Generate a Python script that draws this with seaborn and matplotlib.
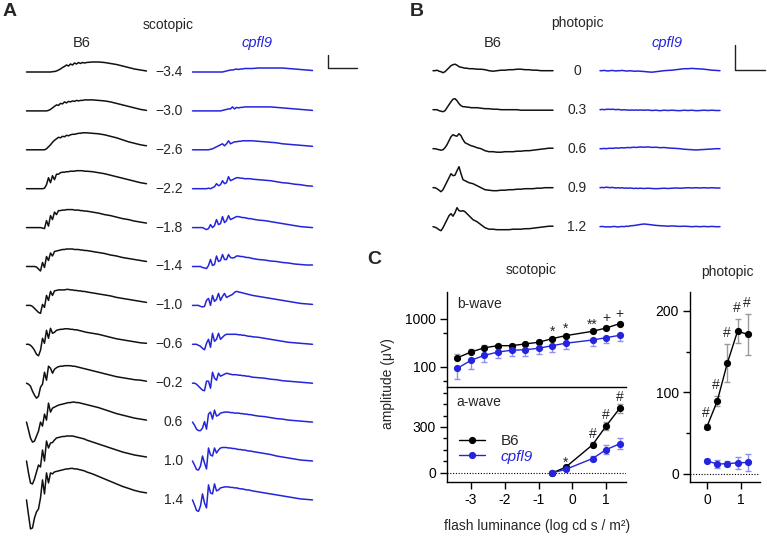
import numpy as np
import matplotlib
matplotlib.use("Agg")
import matplotlib.pyplot as plt
import seaborn as sns
from matplotlib.ticker import FixedLocator, MultipleLocator, NullFormatter, FixedFormatter

# ------------------------------------------------------------------ data
# Panel C : scotopic / photopic ERG amplitudes (uV)
scot_lum = [-3.4, -3.0, -2.6, -2.2, -1.8, -1.4, -1.0, -0.6, -0.2, 0.6, 1.0, 1.4]
bwave_b6 = [156, 205, 252, 278, 278, 302, 327, 389, 449, 554, 649, 797]
bwave_cp = [94, 138, 175, 205, 223, 229, 245, 278, 312, 365, 408, 457]
bwave_b6_err = [30, 35, 35, 28, 28, 30, 33, 39, 45, 55, 65, 80]
bwave_cp_err = [37, 48, 45, 51, 56, 57, 61, 70, 75, 87, 98, 110]
bwave_sig = ["", "", "", "", "", "", "", "*", "*", "**", "+", "+"]

awave_lum = [-0.6, -0.2, 0.6, 1.0, 1.4]
awave_b6 = [0, 37, 184, 306, 421]
awave_cp = [0, 23, 94, 152, 190]
awave_b6_err = [0, 6, 15, 24, 32]
awave_cp_err = [0, 5, 16, 28, 35]
awave_sig = ["", "*", "#", "#", "#"]

phot_lum = [0.0, 0.3, 0.6, 0.9, 1.2]
phot_b6 = [58, 89, 136, 175, 171]
phot_cp = [16, 12, 12.5, 13.5, 14]
phot_b6_err = [3, 6, 23, 15, 25]
phot_cp_err = [2, 5, 3, 7, 10]
phot_sig = ["#", "#", "#", "#", "#"]

# Panel A : scotopic traces (time samples, scaled amplitude)
scot_labels = ["\u22123.4", "\u22123.0", "\u22122.6", "\u22122.2", "\u22121.8", "\u22121.4",
               "\u22121.0", "\u22120.6", "\u22120.2", "0.6", "1.0", "1.4"]
scot_t = [0, 2, 4, 6, 8, 10, 12, 14, 16, 18, 20, 22, 24, 26, 28, 30, 32, 34, 36, 38, 40,
          42, 44, 46, 48, 50, 52, 54, 56, 58, 60, 66, 72, 78, 84, 90, 96, 102, 108, 114, 120]
trace_scot_b6 = [
    [0]*13 + [.3, .5, 1, 2, 3, 4.5, 5.5, 7, 6, 8, 7, 9, 8, 9.5, 8.5, 9.5, 9, 9.5,
              10, 10, 9.5, 8.5, 7.5, 6, 4.5, 3, 2, 1],
    [0]*11 + [.5, 1.5, 3, 4.5, 6, 5.5, 7.5, 7, 9, 8, 9.5, 9, 10, 9.5, 10.5, 10, 10.5, 10.5, 11, 11,
              11, 10.5, 10, 9, 7.5, 6, 4.5, 3, 1.5, .5],
    [0]*10 + [1, 3, 5, 7.5, 9.5, 11, 12.5, 12, 13.5, 13, 14.5, 14, 15, 15.5, 15.5, 16, 16.5, 16.5, 17, 17, 17,
              16.5, 16, 15, 13.5, 12, 10, 8, 6.5, 5, 4],
    [0]*9 + [.5, 4, 11, 6, 13, 9, 14.5, 14.5, 16, 16.5, 16.5, 17, 17, 17.5, 17.5, 17.5, 18, 18, 18, 18, 17.5, 17.5,
             17, 16, 15, 13.5, 12, 10.5, 9, 7.5, 6, 5],
    [0]*8 + [-.5, -1, 7, 1.5, 12, 8, 15.5, 13, 17, 17, 17.5, 17.5, 18, 18, 18, 18, 17.5, 17.5, 17.5, 17, 17, 16.5, 16.5,
             15.5, 14.5, 13, 12, 10.5, 9, 8, 6.5, 5.5, 4.5],
    [0]*5 + [-.5, -2.5, -4.5, 4, -1, 10, 6, 13.5, 10.5, 15, 15.5, 16, 16.5, 17, 17, 17.5, 17.5, 17.5, 17.5, 17, 17, 17,
             16.5, 16.5, 16, 16, 15, 14, 13, 11.5, 10.5, 9, 8, 7, 6, 5],
    [0]*3 + [-1, -3, -5, -7, -8, 1, -2, 10, 5, 14, 10, 14.5, 15, 15.5, 15.5, 15.5, 15.5, 16, 16, 15.5, 15.5, 15, 15,
             14.5, 14.5, 14, 14, 13.5, 12.5, 11.5, 10.5, 9.5, 8, 7, 6, 5, 4, 3],
    [0]*2 + [-1, -3, -6, -10, -11.5, -6, 6, 1, 14, 6, 16, 11, 12, 14, 14.5, 15, 15, 15.5, 15.5, 15.5, 15, 15, 14.5,
             14.5, 14, 13.5, 13, 12.5, 12, 11, 10, 8.5, 7, 5.5, 4.5, 3.5, 2.5, 1.5, 1],
    [0, -1, -3, -8, -12, -15, -13, -4, -1, 11, 3, 17, 15, 10, 14, 15.5, 16.5, 17, 17, 17.5, 17.5, 17.5, 17.5, 17, 17,
     16.5, 16, 15.5, 15, 14.5, 14, 12.5, 11, 9.5, 8, 6.5, 5.5, 4.5, 3.5, 3, 2],
    [0, -8, -16, -20, -19, -14, -9, 0, -4, 8, 2, 19, 10, 14, 15, 16, 17, 17.5, 18, 18.5, 19, 19.5, 19.5, 20, 20,
     19.5, 19.5, 19, 18.5, 18, 17.5, 16, 14.5, 12.5, 10.5, 8.5, 7, 5.5, 4, 3, 2],
    [0, -12, -22, -23, -18, -11, -4, -6, 11, 0, 20, 13, 18, 18.5, 21, 23, 23.5, 24, 24.5, 24.5, 25, 25, 25, 25, 24.5,
     24, 23.5, 23, 22.5, 22, 21, 19, 17, 15, 13, 11, 9, 7.5, 6, 5, 4],
    [0, -15, -29, -28, -18, -12, -9, 2, 20, 6, 27, 17, 27, 26, 28, 28.5, 29, 29.5, 30, 30.5, 31, 31, 31.5, 31.5, 31,
     31, 30.5, 30, 29.5, 29, 28, 26, 23.5, 21, 18.5, 16, 13.5, 11.5, 9.5, 8, 7],
]
trace_scot_cp = [
    [0]*16 + [.5, 1, 1.5, 2, 2, 2.5, 3, 2.5, 3, 3, 3.5, 3.5, 3.5, 3.5, 3.5,
              4, 4, 4, 4, 4, 3.5, 3, 2.5, 2, 1.5],
    [0]*15 + [.5, 1, 1.5, 2, 2, 4, 2, 3.5, 3, 3.5, 3.5, 4, 4, 4, 4, 4,
              4, 4, 4, 3.5, 3, 2.5, 2, 1.5, 1, .5],
    [0]*9 + [.5, 1, 2, 3, 4, 5, 6, 4, 6, 9, 6, 7, 8, 8, 8.5, 8.5, 9, 9, 9, 9, 9, 9,
             8.5, 8, 7.5, 7, 6, 5.5, 5, 4.5, 4, 3.5],
    [0]*8 + [.5, 0, 1, 2, 5, 3, 4, 8, 5, 6, 12, 8, 9, 10, 11, 11, 10.5, 10.5, 10, 10, 10, 10, 9.5,
             9, 8.5, 8, 7, 6, 5.5, 4.5, 4, 3, 2.5],
    [0]*6 + [-1, -2, -1, 3, 0, 2, 8, 3, 4, 11, 5, 7, 12, 8, 9, 10, 11, 11, 10.5, 10, 10, 9.5, 9, 9, 8.5,
             7.5, 7, 6, 5, 4, 3, 2, 1, .5, 0],
    [0]*5 + [-1, -1.5, -2, 1, 7, 1, 2, 10.5, 5, 6, 12, 7, 7, 12, 9, 8.5, 9, 10.5, 10.5, 10, 10, 9.5, 9, 9, 8.5, 8,
             7, 6.5, 5.5, 5, 4, 3.5, 2.5, 2, 1.5, 1.5],
    [0]*4 + [-1, -1.5, -1, 5, 7, 0, 10, 4, 6, 12, 5, 9, 12, 8, 9, 10, 11, 13, 14, 13.5, 13, 12.5, 12, 11.5, 11, 10.5, 10,
             9, 8, 7, 6, 5, 4, 3, 2, 1.5, 1],
    [0]*3 + [-1, -2, -4, -5.5, 1, 5, -3, 11, 3, 5, 11, 5, 7, 9, 10, 10, 10, 10, 10, 10, 9.5, 9.5, 9, 9, 8.5, 8, 8, 7.5,
             7, 6, 5, 4, 3, 2, 1.5, 1, .5, 0],
    [0]*2 + [-1, -3, -5, -7, -7.5, 2, 2, -5, 11, 5, 3, 10, 7, 8, 9, 10, 9.5, 9, 8.5, 8.5, 8.5, 8, 8, 7.5, 7.5, 7, 7,
             6.5, 6, 5.5, 5, 4, 3.5, 2.5, 2, 1.5, 1, .5, 0],
    [0, -3, -7, -8.5, -8.5, -6, .5, -7, 8, 10, 3, 12, 6, 7, 9, 9.5, 10, 10, 10, 9.5, 9.5, 9, 9, 9, 8.5, 8.5, 8, 8,
     7.5, 7.5, 7, 6, 5.5, 4.5, 3.5, 3, 2, 1.5, 1, .5, 0],
    [0, -4, -8.5, -9, -5, 5, -2, -8, 13, 6, 5, 13, 8, 11, 13, 13.5, 13.5, 13.5, 13, 13, 12.5, 12.5, 12, 11.5, 11.5,
     11, 11, 10.5, 10, 10, 9.5, 8.5, 7.5, 6.5, 5, 4, 3, 2, 1, .5, 0],
    [0, -5, -10.5, -11.5, -6, 6, -3, -8, 15, 7, 6, 16, 9, 10, 12, 12.5, 13, 13, 13, 12.5, 12.5, 12, 12, 11.5, 11,
     11, 10.5, 10, 10, 9.5, 9, 8, 7, 6, 5, 4, 3, 2, 1, .5, 0],
]

# Panel B : photopic traces
phot_labels = ["0", "0.3", "0.6", "0.9", "1.2"]
phot_t = [0, 2, 4, 6, 8, 10, 12, 14, 16, 18, 20, 22, 24, 26, 28, 30, 32, 34, 36, 38, 40,
          44, 48, 52, 56, 60, 64, 68, 72, 76, 80, 84, 88, 92, 96, 100, 104, 108, 112, 116, 120]
trace_phot_b6 = [
    [0, 0, .5, -.5, -1, -2, -1, 1, 3, 5, 6, 6.5, 5.5, 4, 3.5, 3, 2.5, 2.5, 2, 2, 2,
     1.5, 1.5, 1, 0, -.5, 0, .5, .5, 1, 1, 1.5, 1.5, 1, 1, .5, .5, 0, 0, 0, 0],
    [0, 0, 0, -1, -1.5, -2, -1, 2, 5, 8, 10.5, 11, 9, 6, 4, 3, 3, 2.5, 2.5, 2, 2,
     2, 1.5, 1, 1, .5, .5, 0, 0, 0, 0, 0, -.5, -.5, -.5, -.5, -.5, -.5, -.5, -.5, -.5],
    [0, 0, -.5, -1, -1.5, -1, 1, 4, 8, 12, 14, 13, 12.5, 15, 13, 9, 6, 5, 4, 3, 2.5,
     1, 0, -2, -3, -3, -3.5, -3.5, -3, -3, -3, -2.5, -2.5, -2, -2, -1.5, -1, -.5, 0, .5, .5],
    [0, 0, -1, -2.5, -4, -2, 2, 6, 10, 14, 12, 12.5, 17, 21, 14, 8, 7, 6, 5, 4.5, 4,
     2, 0, -2, -2.5, -3, -3, -2.5, -2.5, -2, -2, -1.5, -1.5, -1, -1, -1, -.5, -.5, 0, 0, 0],
    [0, -.5, -1.5, -3, -4, -1, 3, 7, 11, 13, 10.5, 14, 19, 16, 15.5, 16, 15, 13, 11, 9, 7,
     5, 2, -1, -2.5, -2.5, -3, -3, -3, -3, -2.5, -2.5, -2.5, -2, -2, -1.5, -1, -.5, 0, .5, .5],
]
trace_phot_cp = [
    [0, 0, .3, 0, -.3, 0, .3, 0, -.3, 0, 0, .3, 0, -.3, -.3, 0, -.3, -.5, -.5, -.3, -.5,
     -.8, -1.2, -1.5, -1, -.5, 0, .3, .5, 1, 1.5, 2, 2, 2.3, 2, 1.8, 1.5, 1, .5, .3, 0],
    [0, .3, 0, .3, .5, .3, .5, .3, 0, .3, 0, -.3, 0, -.3, -.3, -.5, -.3, -.5, -.3, -.5, -.3,
     -.5, -.3, -.8, -.5, -1, -.5, -.8, -.5, -.8, -1, -.5, -.8, -.5, -1, -.8, -.5, -.8, -.5, -.8, -.8],
    [0, 0, .3, 0, .3, .5, .3, .5, .8, .5, .8, 1, .8, 1, 1.2, 1, 1.3, 1.5, 1.2, 1.5, 1.7,
     1.5, 1.8, 1.3, 1.5, 1, 1.2, .8, .5, .3, 0, -.5, -.8, -1, -1.3, -1, -.8, -.5, -.3, 0, 0],
    [0, .3, 0, .5, .3, 0, .3, 0, -.3, 0, -.3, 0, -.5, -.3, -.5, -.3, -.5, -.8, -.5, -.8, -.5,
     -.8, -.5, -.8, -1, -.8, -.5, -.8, -.5, -.3, -.5, -.3, 0, -.3, 0, -.3, 0, -.3, 0, -.3, -.3],
    [0, .3, 0, -.3, 0, -.3, 0, .3, 0, -.3, 0, .3, 0, .5, .3, .8, 1, 1.2, 1.5, 1.8, 2.2,
     2.7, 2.3, 1.8, 1.3, 1, .8, .5, .8, .5, .3, .5, .3, 0, .3, 0, .3, 0, .3, 0, 0],
]

# ------------------------------------------------------------------ style
sns.set_theme(style="white")
plt.rcParams["font.family"] = ["Liberation Sans", "DejaVu Sans"]
plt.rcParams["axes.unicode_minus"] = False
plt.rcParams["axes.edgecolor"] = "black"
plt.rcParams["xtick.color"] = "black"
plt.rcParams["ytick.color"] = "black"

BLACK = "#111111"
BLUE = "#2424dc"
GREY_ERR = "#9a9a9a"
BLUE_ERR = "#8f8ff0"
FS = 10

W, H = 767, 537
fig = plt.figure(figsize=(W / 100, H / 100), dpi=100)


def rect(x0, y0, x1, y1):
    return [x0 / W, 1 - y1 / H, (x1 - x0) / W, (y1 - y0) / H]


def ftext(x, y, s, **kw):
    kw.setdefault("fontsize", FS)
    kw.setdefault("ha", "center")
    kw.setdefault("va", "center")
    fig.text(x / W, 1 - y / H, s, **kw)


def trace_axes(x0, top, bottom, base0):
    ax = fig.add_axes(rect(x0, top, x0 + 120, bottom))
    ax.set_xlim(0, 120)
    ax.set_ylim(-(bottom - base0), base0 - top)
    ax.axis("off")
    return ax


TLW = 1.1

# ------------------------------------------------------------------ panel A
A_BASE, A_STEP = 72, 38.9
axA1 = trace_axes(26.5, 30, 537, A_BASE)
axA2 = trace_axes(192.5, 30, 537, A_BASE)
for i, (vb, vc) in enumerate(zip(trace_scot_b6, trace_scot_cp)):
    off = -A_STEP * i
    axA1.plot(scot_t, np.array(vb, float) + off, color=BLACK, lw=TLW, clip_on=False)
    axA2.plot(scot_t, np.array(vc, float) + off, color=BLUE, lw=TLW, clip_on=False)
    ftext(183, A_BASE + A_STEP * i, scot_labels[i], ha="right")
# scale bar
axA2.plot([135.5, 135.5, 164.5], [17, 4, 4], color="#222222", lw=1.0, clip_on=False)

ftext(3, 12, "A", fontsize=14, fontweight="bold", ha="left")
ftext(168, 25, "scotopic")
ftext(82, 43, "B6", fontsize=10.5)
ftext(257, 43, "cpfl9", fontsize=10.5, style="italic", color=BLUE)

# ------------------------------------------------------------------ panel B
B_BASE, B_STEP = 70.7, 39
axB1 = trace_axes(433, 30, 260, B_BASE)
axB2 = trace_axes(600, 30, 260, B_BASE)
for i, (vb, vc) in enumerate(zip(trace_phot_b6, trace_phot_cp)):
    off = -B_STEP * i
    axB1.plot(phot_t, np.array(vb, float) + off, color=BLACK, lw=TLW, clip_on=False)
    axB2.plot(phot_t, np.array(vc, float) + off, color=BLUE, lw=TLW, clip_on=False)
    ftext(577, B_BASE + B_STEP * i, phot_labels[i])
axB2.plot([135, 135, 165], [25.7, 0.7, 0.7], color="#222222", lw=1.0, clip_on=False)

ftext(410, 11, "B", fontsize=14, fontweight="bold", ha="left")
ftext(577, 23, "photopic")
ftext(493, 43, "B6", fontsize=10.5)
ftext(667, 43, "cpfl9", fontsize=10.5, style="italic", color=BLUE)

# ------------------------------------------------------------------ panel C
axb = fig.add_axes(rect(447, 292, 626, 387))
axa = fig.add_axes(rect(447, 387, 626, 482))
axp = fig.add_axes(rect(690, 292, 760, 482))

for ax in (axb, axa, axp):
    ax.set_facecolor("none")
    for s in ("top", "right"):
        ax.spines[s].set_visible(False)
    for s in ("left", "bottom"):
        ax.spines[s].set_linewidth(1.0)
        ax.spines[s].set_color("black")
    ax.tick_params(which="major", direction="out", length=5, width=1, labelsize=FS, pad=3,
                   left=True, bottom=True)
    ax.tick_params(which="minor", direction="out", length=3, width=1, left=True)


def draw_series(ax, x, y, err, color, ecolor, label=None, lower_only=False, upper_only=False):
    xa = np.asarray(x, dtype=float)
    ya = np.asarray(y, dtype=float)
    ea = np.asarray(err, dtype=float)
    if lower_only:
        yerr = [ea, np.zeros_like(ea)]
    elif upper_only:
        yerr = [np.zeros_like(ea), ea]
    else:
        yerr = ea
    ax.errorbar(xa, ya, yerr=yerr, fmt="none", ecolor=ecolor, elinewidth=1, capsize=2.3,
                capthick=1, zorder=1)
    sns.lineplot(x=xa, y=ya, ax=ax, color=color, marker="o", markersize=5.2,
                 markeredgecolor=color, markeredgewidth=0, lw=1.0, zorder=3,
                 label=label, legend=False)


# b-wave (log)
axb.set_yscale("log")
draw_series(axb, scot_lum, bwave_b6, bwave_b6_err, "black", GREY_ERR, upper_only=True)
draw_series(axb, scot_lum, bwave_cp, bwave_cp_err, BLUE, BLUE_ERR, lower_only=True)
axb.set_xlim(-3.71, 1.59)
axb.set_ylim(38.3, 3650)
axb.yaxis.set_major_locator(FixedLocator([100, 1000]))
axb.yaxis.set_minor_locator(FixedLocator([50, 500]))
axb.yaxis.set_major_formatter(FixedFormatter(["100", "1000"]))
axb.yaxis.set_minor_formatter(NullFormatter())
axb.tick_params(axis="x", which="both", bottom=False, labelbottom=False)
axb.set_xlabel("")
axb.set_ylabel("")
for x, y, s in zip(scot_lum, bwave_b6, bwave_sig):
    if s:
        dy = 6 if s == "+" else 3
        axb.annotate(s, (x, y), xytext=(0, dy), textcoords="offset pixels",
                     ha="center", va="baseline", fontsize=FS)
axb.text(0.055, 0.87, "b-wave", transform=axb.transAxes, fontsize=FS, va="center", ha="left")

# a-wave (linear)
axa.axhline(0, color="black", lw=0.8, ls=(0, (1, 1.5)), zorder=0)
draw_series(axa, awave_lum, awave_b6, awave_b6_err, "black", GREY_ERR, label="B6")
draw_series(axa, awave_lum, awave_cp, awave_cp_err, BLUE, BLUE_ERR, label="cpfl9")
axa.set_xlim(-3.71, 1.59)
axa.set_ylim(-59, 561)
axa.set_yticks([0, 300])
axa.yaxis.set_minor_locator(MultipleLocator(75))
axa.set_xticks([-3, -2, -1, 0, 1])
axa.set_xlabel("")
axa.set_ylabel("")
for x, y, s in zip(awave_lum, awave_b6, awave_sig):
    if s:
        dy = 1 if s == "*" else 7
        axa.annotate(s, (x, y), xytext=(0, dy), textcoords="offset pixels",
                     ha="center", va="baseline", fontsize=FS)
axa.text(0.055, 0.84, "a-wave", transform=axa.transAxes, fontsize=FS, va="center", ha="left")
leg = axa.legend(loc="upper left", bbox_to_anchor=(459 / W, 1 - 434 / H),
                 bbox_transform=fig.transFigure, frameon=False, fontsize=11,
                 handlelength=1.7, handletextpad=1.0, labelspacing=0.12, borderpad=0,
                 borderaxespad=0)
for txt in leg.get_texts():
    if txt.get_text() == "cpfl9":
        txt.set_color(BLUE)
        txt.set_style("italic")

# photopic
axp.axhline(0, color="black", lw=0.8, ls=(0, (1, 1.5)), zorder=0)
draw_series(axp, phot_lum, phot_b6, phot_b6_err, "black", GREY_ERR)
draw_series(axp, phot_lum, phot_cp, phot_cp_err, BLUE, BLUE_ERR)
axp.set_xlim(-0.5, 1.56)
axp.set_ylim(-10, 223)
axp.set_yticks([0, 100, 200])
axp.yaxis.set_minor_locator(FixedLocator([50, 150]))
axp.set_xticks([0, 1])
axp.set_xlabel("")
axp.set_ylabel("")
for x, y, e, s in zip(phot_lum, phot_b6, phot_b6_err, phot_sig):
    axp.annotate(s, (x, y + e), xytext=(-1, 7), textcoords="offset pixels",
                 ha="center", va="baseline", fontsize=FS)

ftext(367, 259, "C", fontsize=14, fontweight="bold", ha="left")
ftext(531, 270, "scotopic")
ftext(727, 272, "photopic")
ftext(388, 384, "amplitude (\u03bcV)", rotation=90)
ftext(537, 526, "flash luminance (log cd s / m\u00b2)")

fig.savefig("out.png", dpi=100)
